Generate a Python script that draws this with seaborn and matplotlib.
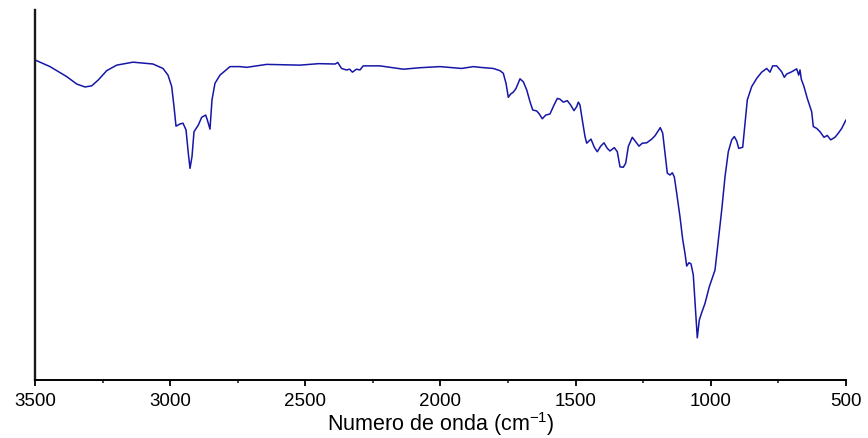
import matplotlib
matplotlib.use("Agg")
import matplotlib.pyplot as plt
from matplotlib.ticker import MultipleLocator
import seaborn as sns
import pandas as pd

wavenumber = [
    3500, 3444.5, 3382.7, 3345.7, 3315, 3290.3, 3265.8, 3234.8, 3197.8, 3137.5,
    3063.5, 3026.5, 3008, 2994.3, 2985.8, 2978.4, 2963.6, 2952.5, 2941.4, 2932.9,
    2926.6, 2919.2, 2911.8, 2895.9, 2883.4, 2868.6, 2862.6, 2852.7, 2845.3, 2834.2,
    2815.7, 2778.7, 2741.7, 2716.9, 2643, 2520, 2450, 2390, 2380, 2366,
    2348, 2336, 2326, 2311, 2298, 2286, 2224, 2137.6, 2075.8, 2001.9,
    1921.6, 1878.6, 1853.9, 1804.7, 1779.9, 1767.7, 1757.7, 1749.2, 1740.3, 1730.7,
    1720.7, 1705.9, 1693.7, 1681.1, 1668.9, 1658.9, 1644.1, 1634.5, 1623.4, 1610.8,
    1595.0, 1580.2, 1567.9, 1558.0, 1545.7, 1531.0, 1518.4, 1506.2, 1496.2, 1490.2,
    1484.0, 1475.5, 1465.5, 1459.2, 1443.3, 1431.1, 1420.0, 1407.4, 1395.2, 1383.0,
    1373.0, 1357.1, 1346.0, 1336.0, 1323.8, 1314.9, 1305.3, 1290.5, 1277.9, 1265.7,
    1253.5, 1237.2, 1218.7, 1206.6, 1196.6, 1187.0, 1178.0, 1169.6, 1161.0, 1151.1,
    1142.5, 1135.1, 1126.3, 1114.1, 1104.1, 1095.6, 1089.3, 1080.8, 1073.4, 1064.9,
    1057.5, 1050.1, 1042.7, 1033.8, 1021.6, 1005.7, 984.6, 972.4, 959.8, 947.6,
    935.4, 922.8, 913.2, 904.3, 896.9, 882.1, 873.6, 865.1, 848.8, 830.4,
    811.9, 793.4, 781.2, 771.2, 756.4, 737.9, 728.2, 719.4, 700.9, 682.4,
    675.0, 670.2, 665.4, 655.4, 643.2, 626.9, 621.0, 608.4, 596.2, 581.4,
    569.2, 556.6, 540.7, 528.5, 515.9, 500,
]
transmittance = [
    86.5, 84.7, 82.0, 80.0, 79.2, 79.5, 81.1, 83.6, 85.1, 85.9,
    85.4, 84.2, 82.4, 79.3, 73.9, 68.6, 69.2, 69.4, 67.6, 61.3,
    57.2, 60.4, 67.1, 68.9, 71.0, 71.6, 70.3, 67.8, 75.7, 80.2,
    82.4, 84.7, 84.7, 84.5, 85.3, 85.1, 85.5, 85.4, 85.8, 84.2,
    83.8, 84.0, 83.2, 84.0, 83.8, 84.9, 84.9, 84.0, 84.4, 84.7,
    84.2, 84.7, 84.5, 84.2, 83.6, 82.9, 80.2, 76.4, 77.3, 77.8,
    78.8, 81.4, 80.6, 78.4, 75.2, 73.0, 72.7, 71.9, 70.6, 71.6,
    71.9, 74.3, 76.1, 75.9, 75.1, 75.5, 74.3, 72.8, 73.9, 75.1,
    74.3, 70.3, 65.8, 64.0, 65.1, 62.9, 61.7, 63.2, 64.1, 62.6,
    61.9, 62.8, 61.7, 57.6, 57.5, 58.6, 63.1, 65.6, 64.4, 63.2,
    64.0, 64.1, 65.1, 66.0, 67.1, 68.2, 66.7, 61.3, 55.9, 55.4,
    56.0, 54.9, 50.5, 44.1, 38.0, 34.2, 30.8, 31.7, 31.4, 28.4,
    19.8, 11.4, 16.2, 18.2, 20.7, 25.2, 29.7, 37.8, 45.9, 54.9,
    61.7, 64.9, 65.8, 64.6, 62.6, 62.9, 69.4, 75.7, 79.3, 81.5,
    83.2, 84.2, 83.2, 84.9, 84.9, 83.3, 81.8, 82.7, 83.3, 84.1,
    82.4, 83.8, 81.3, 79.3, 76.1, 72.5, 68.5, 68.0, 67.1, 65.6,
    66.1, 64.9, 65.6, 66.7, 68.0, 70.3,
]
x_ticks = [3500, 3000, 2500, 2000, 1500, 1000, 500]
x_label = "Numero de onda (cm$^{-1}$)"

sns.set_style("ticks")
plt.rcParams["font.family"] = ["Liberation Sans", "DejaVu Sans"]
plt.rcParams["mathtext.fontset"] = "custom"
plt.rcParams["mathtext.rm"] = "Liberation Sans"
plt.rcParams["mathtext.it"] = "Liberation Sans"
plt.rcParams["mathtext.default"] = "regular"

df = pd.DataFrame({"wn": wavenumber, "T": transmittance})

fig = plt.figure(figsize=(8.68, 4.38), dpi=100)
ax = fig.add_axes([35 / 868, 58 / 438, 811 / 868, 370 / 438])
sns.lineplot(data=df, x="wn", y="T", ax=ax, color="#1616a8", linewidth=1.1,
             sort=False, estimator=None)

ax.set_xlim(3500, 500)
ax.set_ylim(0, 100)
ax.set_xticks(x_ticks)
ax.set_xticklabels([str(t) for t in x_ticks])
ax.xaxis.set_minor_locator(MultipleLocator(250))
ax.set_yticks([])
ax.set_ylabel("")
ax.set_xlabel(x_label, fontsize=15.5, color="black")
ax.xaxis.label.set_va("baseline")
ax.xaxis.set_label_coords(0.5, -51 / 370)

for s in ["top", "right"]:
    ax.spines[s].set_visible(False)
ax.spines["left"].set_linewidth(1.7)
ax.spines["left"].set_color("#1a1a1a")
ax.spines["bottom"].set_linewidth(1.4)
ax.spines["bottom"].set_color("black")
ax.tick_params(axis="x", which="major", direction="out", length=4.5, width=1.3,
               labelsize=13.5, pad=5, colors="black")
ax.tick_params(axis="x", which="minor", direction="out", length=2.5, width=1.2)

fig.savefig("out.png", dpi=100)
